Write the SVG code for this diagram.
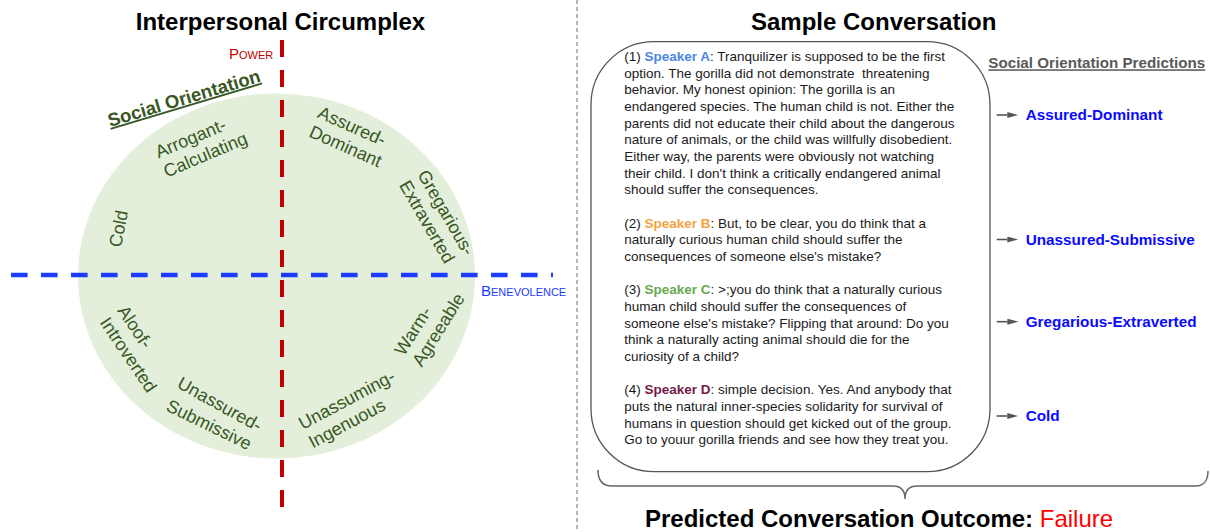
<svg xmlns="http://www.w3.org/2000/svg" width="1210" height="532" viewBox="0 0 1210 532">
<style>
.title{font-family:"Liberation Sans",Arial,sans-serif;font-weight:bold;font-size:24px;fill:#000}
.lab{font-family:"Liberation Sans",Arial,sans-serif;font-size:18px;fill:#385723}
.sc{font-family:"Liberation Sans",Arial,sans-serif;font-size:15px}
.conv{font-family:"Liberation Sans",Arial,sans-serif;font-size:13.5px;fill:#1a1a1a}
.spk{font-weight:bold}
.pred{font-family:"Liberation Sans",Arial,sans-serif;font-weight:bold;font-size:15.3px;fill:#0a0aff}
.arr{stroke:#555;stroke-width:1.6;fill:none}
</style>
<defs>
<marker id="ah" markerUnits="userSpaceOnUse" markerWidth="11" markerHeight="6" viewBox="0 0 11 6" refX="0" refY="3" orient="auto">
<path d="M0,0 L11,3 L0,6 z" fill="#555"/>
</marker>
</defs>

<g id="left-title"><text class="title" x="280.5" y="30" text-anchor="middle">Interpersonal Circumplex</text></g>

<g id="circumplex">
<ellipse cx="276.5" cy="276" rx="198.5" ry="182.5" fill="#e3efdb"/>
</g>

<g id="axes">
<line x1="282" y1="40" x2="282" y2="507" stroke="#c00000" stroke-width="4" stroke-dasharray="17 13"/>
<line x1="11" y1="275" x2="553" y2="275" stroke="#1c3cff" stroke-width="4.5" stroke-dasharray="16.6 13.4"/>
</g>

<g id="power-label"><text class="sc" x="229" y="59" fill="#c00000">P<tspan font-size="11">OWER</tspan></text></g>
<g id="benevolence-label"><text class="sc" x="481" y="296" fill="#1c3cff">B<tspan font-size="11">ENEVOLENCE</tspan></text></g>

<g id="social-orientation"><text transform="translate(110,127) rotate(-16.7)" font-family="Liberation Sans, Arial, sans-serif" font-weight="bold" font-size="18.5" fill="#385723" text-decoration="underline">Social Orientation</text></g>

<g id="arrogant-calculating"><text class="lab" transform="translate(158.5,158.5) rotate(-23)"><tspan x="0" y="0">Arrogant-</tspan><tspan x="0" y="21">Calculating</tspan></text></g>
<g id="assured-dominant"><text class="lab" transform="translate(316.5,117) rotate(24)"><tspan x="0" y="0">Assured-</tspan><tspan x="0" y="21">Dominant</tspan></text></g>
<g id="cold"><text class="lab" transform="translate(121,248) rotate(-79)">Cold</text></g>
<g id="gregarious-extraverted"><text class="lab" transform="translate(417,174.5) rotate(60)"><tspan x="0" y="0">Gregarious-</tspan><tspan x="0" y="21">Extraverted</tspan></text></g>
<g id="aloof-introverted"><text class="lab" transform="translate(116.7,310.8) rotate(56)"><tspan x="0" y="0">Aloof-</tspan><tspan x="0" y="21">Introverted</tspan></text></g>
<g id="unassured-submissive">
<text class="lab" transform="translate(176,387) rotate(29)">Unassured-</text>
<text class="lab" transform="translate(165,410) rotate(26)">Submissive</text>
</g>
<g id="warm-agreeable"><text class="lab" transform="translate(404,356.7) rotate(-58)"><tspan x="0" y="0">Warm-</tspan><tspan x="0" y="21">Agreeable</tspan></text></g>
<g id="unassuming-ingenuous"><text class="lab" transform="translate(302.8,430) rotate(-28)"><tspan x="0" y="0">Unassuming-</tspan><tspan x="0" y="21">Ingenuous</tspan></text></g>

<g id="separator"><line x1="577" y1="0" x2="577" y2="532" stroke="#888" stroke-width="1.2" stroke-dasharray="4 3"/></g>

<g id="right-title"><text class="title" x="873.7" y="30" text-anchor="middle">Sample Conversation</text></g>

<g id="conversation">
<rect x="591" y="41.7" width="399" height="430" rx="63" ry="63" fill="#fff" stroke="#555" stroke-width="1.3"/>
<text class="conv">
<tspan x="624.3" y="61">(1) <tspan class="spk" fill="#4a86e8">Speaker A</tspan>: Tranquilizer is supposed to be the first</tspan>
<tspan x="624.3" y="77.67" style="white-space:pre">option. The gorilla did not demonstrate  threatening</tspan>
<tspan x="624.3" y="94.33">behavior. My honest opinion: The gorilla is an</tspan>
<tspan x="624.3" y="111">endangered species. The human child is not. Either the</tspan>
<tspan x="624.3" y="127.67">parents did not educate their child about the dangerous</tspan>
<tspan x="624.3" y="144.33">nature of animals, or the child was willfully disobedient.</tspan>
<tspan x="624.3" y="161">Either way, the parents were obviously not watching</tspan>
<tspan x="624.3" y="177.67">their child. I don't think a critically endangered animal</tspan>
<tspan x="624.3" y="194.33">should suffer the consequences.</tspan>
<tspan x="624.3" y="227.67">(2) <tspan class="spk" fill="#f5a33f">Speaker B</tspan>: But, to be clear, you do think that a</tspan>
<tspan x="624.3" y="244.33">naturally curious human child should suffer the</tspan>
<tspan x="624.3" y="261">consequences of someone else's mistake?</tspan>
<tspan x="624.3" y="294.33">(3) <tspan class="spk" fill="#6aa84f">Speaker C</tspan>: &gt;;you do think that a naturally curious</tspan>
<tspan x="624.3" y="311">human child should suffer the consequences of</tspan>
<tspan x="624.3" y="327.67">someone else's mistake? Flipping that around: Do you</tspan>
<tspan x="624.3" y="344.33">think a naturally acting animal should die for the</tspan>
<tspan x="624.3" y="361">curiosity of a child?</tspan>
<tspan x="624.3" y="394.33">(4) <tspan class="spk" fill="#741b47">Speaker D</tspan>: simple decision. Yes. And anybody that</tspan>
<tspan x="624.3" y="411">puts the natural inner-species solidarity for survival of</tspan>
<tspan x="624.3" y="427.67">humans in question should get kicked out of the group.</tspan>
<tspan x="624.3" y="444.33">Go to youur gorilla friends and see how they treat you.</tspan>
</text>
</g>

<g id="predictions-header"><text x="988.3" y="68.3" font-family="Liberation Sans, Arial, sans-serif" font-weight="bold" font-size="15.2" fill="#595959" text-decoration="underline">Social Orientation Predictions</text></g>

<g id="connectors">
<line class="arr" x1="996.7" y1="115" x2="1007.3" y2="115" marker-end="url(#ah)"/>
<line class="arr" x1="996.7" y1="239.5" x2="1007.3" y2="239.5" marker-end="url(#ah)"/>
<line class="arr" x1="996.7" y1="321.7" x2="1007.3" y2="321.7" marker-end="url(#ah)"/>
<line class="arr" x1="996.7" y1="416" x2="1007.3" y2="416" marker-end="url(#ah)"/>
<path d="M598,470 C598,480 602,486 612,486 L893,486 C900,486 905,490 905,499 C905,490 910,486 917,486 L1196,486 C1204,486 1208,480 1208,471" fill="none" stroke="#666" stroke-width="1.5"/>
</g>

<g id="pred-1"><text class="pred" x="1025.7" y="120">Assured-Dominant</text></g>
<g id="pred-2"><text class="pred" x="1025.7" y="244.7">Unassured-Submissive</text></g>
<g id="pred-3"><text class="pred" x="1025.7" y="326.7">Gregarious-Extraverted</text></g>
<g id="pred-4"><text class="pred" x="1025.7" y="420.7">Cold</text></g>

<g id="outcome"><text x="645" y="527" font-family="Liberation Sans, Arial, sans-serif" font-size="24"><tspan font-weight="bold" fill="#000">Predicted Conversation Outcome: </tspan><tspan fill="#ff0000">Failure</tspan></text></g>
</svg>
